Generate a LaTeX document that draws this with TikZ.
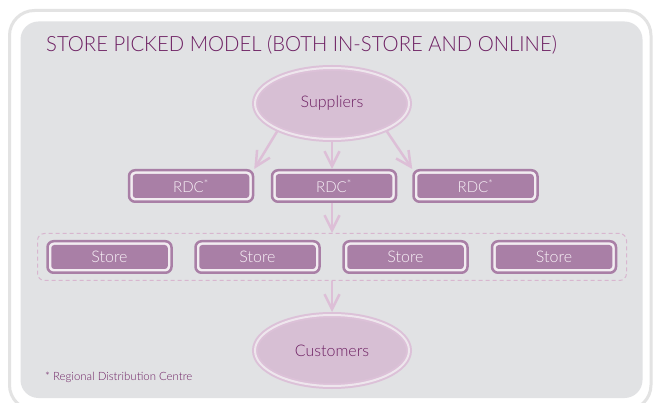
\documentclass[tikz,border=0pt]{standalone}
\usepackage{fontspec}
\setmainfont{Lato Light}
\usetikzlibrary{arrows.meta,shapes.geometric}

\definecolor{panelgrey}{HTML}{E1E2E4}
\definecolor{framegrey}{HTML}{E3E3E3}
\definecolor{plum}{HTML}{6D1F62}
\definecolor{boxplum}{HTML}{A97FA6}
\definecolor{boxgap}{HTML}{F2ECF1}
\definecolor{boxtext}{HTML}{FAF4F9}
\definecolor{ovalfill}{HTML}{D7BFD4}
\definecolor{ovalring}{HTML}{DCC1D8}
\definecolor{ovalgap}{HTML}{EEE6ED}
\definecolor{flow}{HTML}{DDBFD7}
\definecolor{groupline}{HTML}{D8B6CF}

\tikzset{
  unitbox/.style={rectangle, rounded corners=6pt, draw=boxplum, line width=2.5pt,
    fill=boxgap, minimum width=124pt, minimum height=31.5pt, inner sep=0pt,
    outer sep=1.25pt, text=boxtext, font=\fontsize{15}{15}\selectfont,
    path picture={\fill[boxplum, rounded corners=3pt]
      ([shift={(3.75pt,3.75pt)}]path picture bounding box.south west) rectangle
      ([shift={(-3.75pt,-3.75pt)}]path picture bounding box.north east);}},
  storebox/.style={unitbox, font=\fontsize{16}{16}\selectfont},
  oval/.style={ellipse, draw=ovalring, double=ovalgap, double distance=2pt,
    line width=2pt, fill=ovalfill, minimum width=154pt, minimum height=71pt,
    inner sep=0pt, outer sep=3pt, text=plum, font=\fontsize{16}{16}\selectfont},
  storegroup/.style={rectangle, rounded corners=7pt, draw=groupline, line width=1pt,
    dash pattern=on 4pt off 3pt, minimum width=589pt, minimum height=47pt,
    inner sep=0pt, outer sep=0.5pt},
  flowarrow/.style={draw=flow, line width=2.5pt,
    -{Straight Barb[length=15pt,width=15pt]}},
}

\begin{document}
\begin{tikzpicture}[x=1pt, y=-1pt]
  % canvas
  \fill[white] (0,0) rectangle (653,403);
  \useasboundingbox (0,0) rectangle (653,403);

  % outer frame and grey panel
  \draw[framegrey, line width=3pt, rounded corners=25pt] (9.5,10.5) rectangle (651,410);
  \fill[panelgrey, rounded corners=18pt] (20.5,21.5) rectangle (642.5,398);

  % title and footnote
  \node[anchor=base west, inner sep=0pt, text=plum, font=\fontsize{21}{21}\selectfont]
    (title) at (46,52) {\scalebox{0.965}[1]{STORE PICKED MODEL (BOTH IN-STORE AND ONLINE)}};
  \node[anchor=base west, inner sep=0pt, text=plum, font=\fontsize{11.4}{11.4}\selectfont]
    (note) at (45,380) {* Regional Distribution Centre};

  % store group
  \node[storegroup] (grp) at (332,257) {};

  % nodes
  \node[oval] (sup) at (332,103.5) {Suppliers};
  \node[oval] (cus) at (332,350.5) {Customers};

  \node[unitbox] (rdc1) at (191,186) {RDC\textsuperscript{*}};
  \node[unitbox] (rdc2) at (334,186) {RDC\textsuperscript{*}};
  \node[unitbox] (rdc3) at (475.5,186) {RDC\textsuperscript{*}};

  \node[storebox] (st1) at (109.5,257) {Store};
  \node[storebox] (st2) at (257.5,257) {Store};
  \node[storebox] (st3) at (405.5,257) {Store};
  \node[storebox] (st4) at (554,257) {Store};

  % flows
  \draw[flowarrow] (sup.207) -- (rdc1.north east);
  \draw[flowarrow] (sup.south) -- (sup.south |- rdc2.north);
  \draw[flowarrow] (sup.-27) -- (rdc3.north west);
  \draw[flowarrow] (rdc2.south -| grp.north) -- (grp.north);
  \draw[flowarrow] (grp.south) -- (cus.north);
\end{tikzpicture}
\end{document}
